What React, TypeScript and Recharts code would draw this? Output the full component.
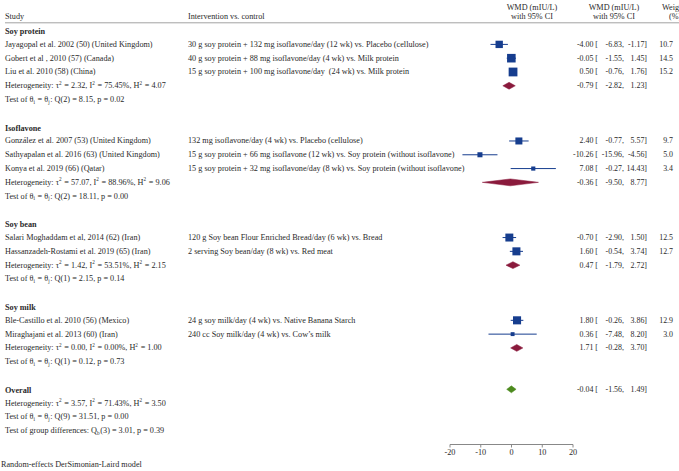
import React from 'react'
import { ScatterChart, Scatter, XAxis, YAxis, ErrorBar } from 'recharts'

// studies
const studyNames = [
    'Jayagopal et al. 2002 (50) (United Kingdom)',
    'Gobert et al , 2010 (57) (Canada)',
    'Liu et al. 2010 (58) (China)',
    'González et al. 2007 (53) (United Kingdom)',
    'Sathyapalan et al. 2016 (63) (United Kingdom)',
    'Konya et al. 2019 (66) (Qatar)',
    'Salari Moghaddam et al, 2014 (62) (Iran)',
    'Hassanzadeh-Rostami et al. 2019 (65) (Iran)',
    'Ble-Castillo et al. 2010 (56) (Mexico)',
    'Miraghajani et al. 2013 (60) (Iran)',
]
const interventions = [
    '30 g soy protein + 132 mg isoflavone/day (12 wk) vs. Placebo (cellulose)',
    '40 g soy protein + 88 mg isoflavone/day (4 wk) vs. Milk protein',
    '15 g soy protein + 100 mg isoflavone/day  (24 wk) vs. Milk protein',
    '132 mg isoflavone/day (4 wk) vs. Placebo (cellulose)',
    '15 g soy protein + 66 mg isoflavone (12 wk) vs. Soy protein (without isoflavone)',
    '15 g soy protein + 32 mg isoflavone/day (8 wk) vs. Soy protein (without isoflavone)',
    '120 g Soy bean Flour Enriched Bread/day (6 wk) vs. Bread',
    '2 serving Soy bean/day (8 wk) vs. Red meat',
    '24 g soy milk/day (4 wk) vs. Native Banana Starch',
    '240 cc Soy milk/day (4 wk) vs. Cow\u2019s milk',
]
const studyGroup = [0, 0, 0, 1, 1, 1, 2, 2, 3, 3]
const studyWmd = [-4.0, -0.05, 0.5, 2.4, -10.26, 7.08, -0.7, 1.6, 1.8, 0.36]
const studyLow = [-6.83, -1.55, -0.76, -0.77, -15.96, -0.27, -2.9, -0.54, -0.26, -7.48]
const studyHigh = [-1.17, 1.45, 1.76, 5.57, -4.56, 14.43, 1.5, 3.74, 3.86, 8.2]
const studyWeight = [10.7, 14.5, 15.2, 9.7, 5.0, 3.4, 12.5, 12.7, 12.9, 3.0]

// subgroups
const groupNames = ['Soy protein', 'Isoflavone', 'Soy bean', 'Soy milk']
const groupWmd = [-0.79, -0.36, 0.47, 1.71]
const groupLow = [-2.82, -9.5, -1.79, -0.28]
const groupHigh = [1.23, 8.77, 2.72, 3.7]
const groupTau2 = [2.32, 57.07, 1.42, 0.0]
const groupI2 = [75.45, 88.96, 53.51, 0.0]
const groupH2 = [4.07, 9.06, 2.15, 1.0]
const groupQdf = [2, 2, 1, 1]
const groupQ = [8.15, 18.11, 2.15, 0.12]
const groupP = [0.02, 0.0, 0.14, 0.73]

// overall
const overallEst = [-0.04, -1.56, 1.49]
const overallHet = [3.57, 71.43, 3.5] // tau2, I2, H2
const overallTest = [9, 31.51, 0.0] // df, Q, p
const groupDiffTest = [3, 3.01, 0.39] // df, Qb, p

const xTicks = [-20, -10, 0, 10, 20]

const FONT = '"Liberation Serif", "Times New Roman", serif'
const TXT = '#2a2a2a'
const NAVY = '#163d8e'
const MAROON = '#8a1a3c'
const GREEN = '#4c8a1e'
const FS = 8.2
const NFS = 7.9

const f2 = (v: number) => v.toFixed(2)

// build rows
const textRows: any[] = [{ x: 0, y: -2, kind: 'header' }]
const studyPoints: any[] = []
const diamonds: { pts: any[]; color: string }[] = []
const dh = 0.25

const makeDiamond = (est: number, lo: number, hi: number, y: number) => [
    { x: lo, y },
    { x: est, y: y - dh },
    { x: hi, y },
    { x: est, y: y + dh },
    { x: lo, y },
]

let r = -1
groupNames.forEach((g, gi) => {
    textRows.push({ x: 0, y: r, kind: 'heading', label: g })
    r++
    studyNames.forEach((name, i) => {
        if (studyGroup[i] !== gi) return
        textRows.push({
            x: 0, y: r, kind: 'study', label: name, note: interventions[i],
            est: studyWmd[i], lo: studyLow[i], hi: studyHigh[i], w: studyWeight[i],
        })
        studyPoints.push({
            x: studyWmd[i], y: r, w: studyWeight[i],
            err: [studyWmd[i] - studyLow[i], studyHigh[i] - studyWmd[i]],
        })
        r++
    })
    textRows.push({
        x: 0, y: r, kind: 'het', tau2: groupTau2[gi], i2: groupI2[gi], h2: groupH2[gi],
        est: groupWmd[gi], lo: groupLow[gi], hi: groupHigh[gi],
    })
    diamonds.push({ pts: makeDiamond(groupWmd[gi], groupLow[gi], groupHigh[gi], r), color: MAROON })
    textRows.push({ x: 0, y: r + 1, kind: 'test', df: groupQdf[gi], q: groupQ[gi], p: groupP[gi] })
    r += 3
})
textRows.push({
    x: 0, y: r, kind: 'heading', label: 'Overall',
    est: overallEst[0], lo: overallEst[1], hi: overallEst[2],
})
diamonds.push({ pts: makeDiamond(overallEst[0], overallEst[1], overallEst[2], r), color: GREEN })
textRows.push({ x: 0, y: r + 1, kind: 'het', tau2: overallHet[0], i2: overallHet[1], h2: overallHet[2] })
textRows.push({ x: 0, y: r + 2, kind: 'test', df: overallTest[0], q: overallTest[1], p: overallTest[2] })
textRows.push({ x: 0, y: r + 3, kind: 'diff', df: groupDiffTest[0], q: groupDiffTest[1], p: groupDiffTest[2] })

const Sup = ({ t }: { t: string }) => (
    <>
        <tspan dy={-3} fontSize={5.2}>{t}</tspan>
        <tspan dy={3}>{'\u200a'}</tspan>
    </>
)
const Sub = ({ t }: { t: string }) => (
    <>
        <tspan dy={2} fontSize={5.2}>{t}</tspan>
        <tspan dy={-2}>{'\u200a'}</tspan>
    </>
)

const RowText = (props: any) => {
    const { cy, payload: d } = props
    const base = { fontFamily: FONT, fontSize: FS, fill: TXT, dominantBaseline: 'central' as const }
    const num = { ...base, fontSize: NFS, textAnchor: 'end' as const }
    const nums = d.est !== undefined && (
        <>
            <text {...num} x={598} y={cy}>{f2(d.est)} [</text>
            <text {...num} x={624} y={cy}>{f2(d.lo)},</text>
            <text {...num} x={647} y={cy}>{f2(d.hi)}]</text>
            {d.w !== undefined && (
                <text {...num} x={673} y={cy}>{d.w.toFixed(1)}</text>
            )}
        </>
    )
    if (d.kind === 'header') {
        return (
            <g>
                <text {...base} x={5} y={cy}>Study</text>
                <text {...base} x={188} y={cy}>Intervention vs. control</text>
                <text {...base} x={532} y={cy - 9} textAnchor='middle'>WMD (mIU/L)</text>
                <text {...base} x={532} y={cy} textAnchor='middle'>with 95% CI</text>
                <text {...base} x={614} y={cy - 9} textAnchor='middle'>WMD (mIU/L)</text>
                <text {...base} x={614} y={cy} textAnchor='middle'>with 95% CI</text>
                <text {...base} x={662} y={cy - 9}>Weight</text>
                <text {...base} x={669} y={cy}>(%)</text>
                <line x1={5} x2={679} y1={cy + 6} y2={cy + 6} stroke='#8a8a8a' strokeWidth={0.8} />
            </g>
        )
    }
    if (d.kind === 'heading') {
        return (
            <g>
                <text {...base} x={5} y={cy + 1} fontWeight='bold'>{d.label}</text>
                {nums}
            </g>
        )
    }
    if (d.kind === 'study') {
        return (
            <g>
                <text {...base} x={5} y={cy}>{d.label}</text>
                <text {...base} x={188} y={cy} style={{ whiteSpace: 'pre' }}>{d.note}</text>
                {nums}
            </g>
        )
    }
    if (d.kind === 'het') {
        return (
            <g>
                <text {...base} x={5} y={cy}>
                    Heterogeneity: {'\u03c4'}<Sup t='2' /> = {f2(d.tau2)}, I<Sup t='2' /> = {f2(d.i2)}%, H<Sup t='2' /> = {f2(d.h2)}
                </text>
                {nums}
            </g>
        )
    }
    if (d.kind === 'test') {
        return (
            <text {...base} x={5} y={cy}>
                Test of {'\u03b8'}<Sub t='i' /> = {'\u03b8'}<Sub t='j' />: Q({d.df}) = {f2(d.q)}, p = {f2(d.p)}
            </text>
        )
    }
    return (
        <text {...base} x={5} y={cy}>
            Test of group differences: Q<Sub t='b' />({d.df}) = {f2(d.q)}, p = {f2(d.p)}
        </text>
    )
}

const StudySquare = (props: any) => {
    const { cx, cy, payload } = props
    const s = 2.25 * Math.sqrt(payload.w)
    return <rect x={cx - s / 2} y={cy - s / 2} width={s} height={s} fill={NAVY} />
}

const Empty = () => <g />

const App: React.FC = () => {
    return (
        <div style={{ position: 'relative', width: 679, height: 471, background: '#fff', overflow: 'hidden' }}>
            <style>{'body{margin:0}'}</style>
            <ScatterChart
                width={679}
                height={471}
                margin={{ top: 3, right: 106, left: 450, bottom: 6.5 }}
            >
                <XAxis
                    type='number'
                    dataKey='x'
                    domain={[-20, 20]}
                    ticks={xTicks}
                    height={20}
                    tickSize={3}
                    stroke='#888'
                    tick={{ fontFamily: FONT, fontSize: FS, fill: TXT }}
                />
                <YAxis type='number' dataKey='y' domain={[-3, 29]} reversed hide />
                <Scatter data={textRows} shape={RowText} isAnimationActive={false} />
                {diamonds.map((dm, i) => (
                    <Scatter
                        key={i}
                        data={dm.pts}
                        line={{ fill: dm.color, stroke: dm.color, strokeWidth: 0.5 }}
                        lineType='joint'
                        shape={Empty}
                        isAnimationActive={false}
                    />
                ))}
                <Scatter data={studyPoints} shape={StudySquare} isAnimationActive={false}>
                    <ErrorBar dataKey='err' direction='x' width={0} stroke={NAVY} strokeWidth={1} />
                </Scatter>
            </ScatterChart>
            <div
                style={{
                    position: 'absolute', left: 1, top: 459, fontFamily: FONT,
                    fontSize: FS, color: TXT, lineHeight: '12px',
                }}
            >
                Random-effects DerSimonian-Laird model
            </div>
        </div>
    )
}

export default App
